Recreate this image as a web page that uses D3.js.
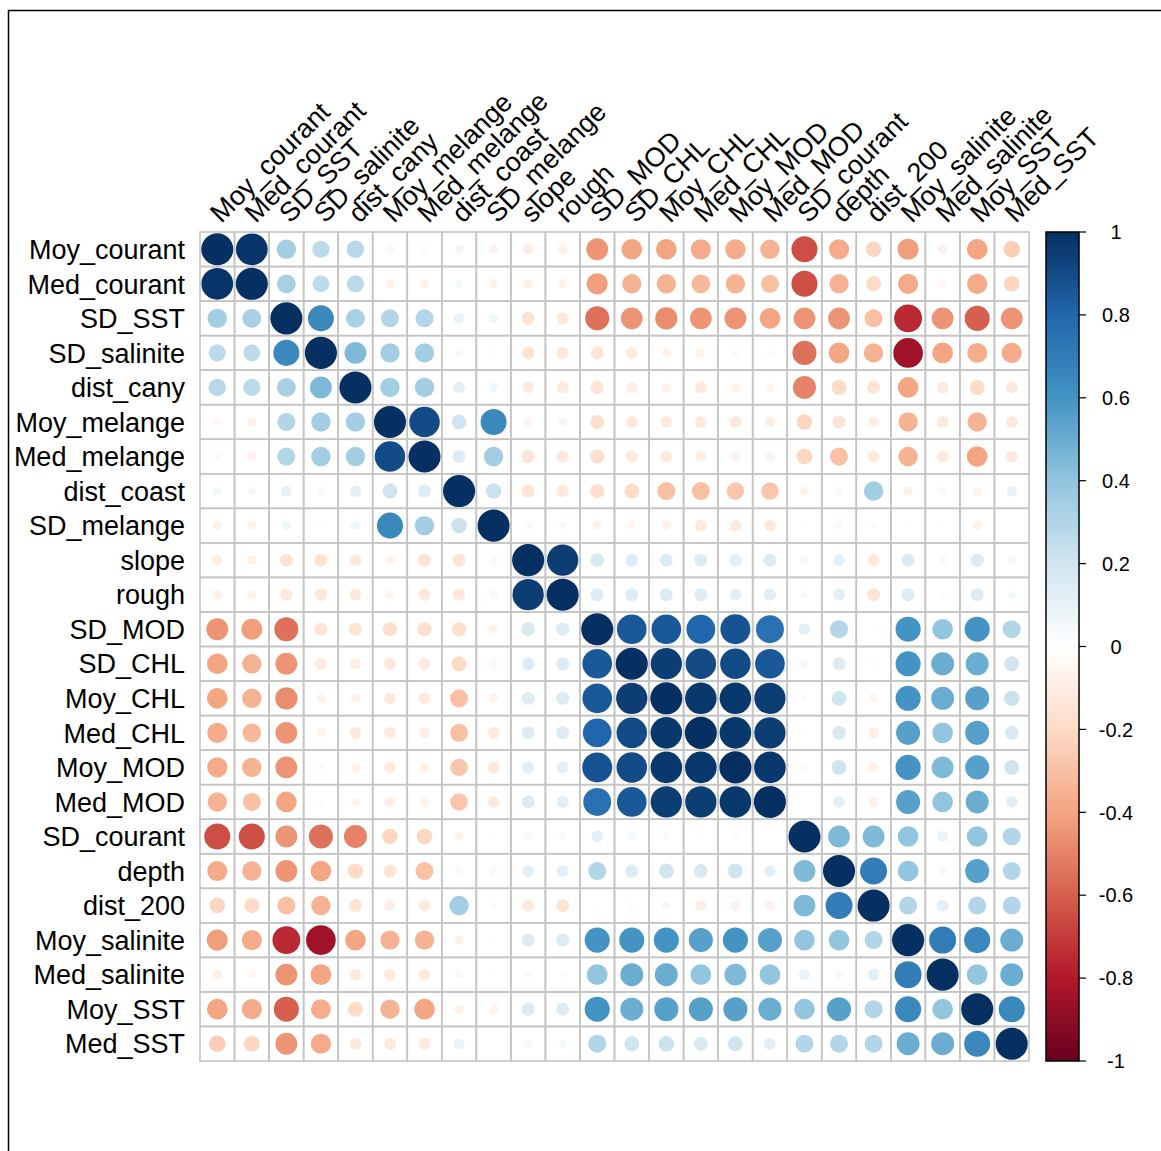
<!DOCTYPE html>
<html>
<head>
<meta charset="utf-8">
<script src="https://cdn.jsdelivr.net/npm/d3@7"></script>
<style>
    body { margin: 0; background: #fff; }
    text { font-family: "Liberation Sans", Arial, sans-serif; }
</style>
</head>
<body>
<div id="chart"></div>
<script>
const width = 1161
const height = 1151

const vars = ["Moy_courant", "Med_courant", "SD_SST", "SD_salinite", "dist_cany", "Moy_melange", "Med_melange",
    "dist_coast", "SD_melange", "slope", "rough", "SD_MOD", "SD_CHL", "Moy_CHL", "Med_CHL", "Moy_MOD", "Med_MOD",
    "SD_courant", "depth", "dist_200", "Moy_salinite", "Med_salinite", "Moy_SST", "Med_SST"]

// one row per variable, same order as vars
const corr = [
    [1, 0.98, 0.35, 0.27, 0.28, -0.05, -0.04, 0.06, -0.07, -0.1, -0.08, -0.45, -0.4, -0.4, -0.38, -0.38, -0.35, -0.65, -0.38, -0.22, -0.42, -0.08, -0.4, -0.25],
    [0.98, 1, 0.33, 0.26, 0.27, -0.07, -0.07, 0.05, -0.07, -0.08, -0.07, -0.42, -0.35, -0.35, -0.33, -0.35, -0.3, -0.65, -0.35, -0.2, -0.38, -0.05, -0.38, -0.22],
    [0.35, 0.33, 1, 0.65, 0.33, 0.3, 0.3, 0.1, 0.07, -0.15, -0.13, -0.55, -0.45, -0.47, -0.45, -0.45, -0.4, -0.45, -0.45, -0.3, -0.75, -0.45, -0.6, -0.45],
    [0.27, 0.26, 0.65, 1, 0.45, 0.35, 0.35, 0.05, 0.02, -0.15, -0.13, -0.15, -0.12, -0.07, -0.07, -0.04, -0.03, -0.55, -0.4, -0.35, -0.85, -0.4, -0.37, -0.38],
    [0.28, 0.27, 0.33, 0.45, 1, 0.35, 0.35, 0.12, 0.07, -0.12, -0.12, -0.15, -0.1, -0.07, -0.12, -0.07, -0.06, -0.5, -0.2, -0.15, -0.4, -0.12, -0.2, -0.12],
    [-0.05, -0.07, 0.3, 0.35, 0.35, 1, 0.9, 0.2, 0.65, -0.07, -0.06, -0.18, -0.13, -0.12, -0.12, -0.12, -0.1, -0.22, -0.15, -0.1, -0.35, -0.12, -0.35, -0.12],
    [-0.04, -0.07, 0.3, 0.35, 0.35, 0.9, 1, 0.15, 0.35, -0.15, -0.13, -0.18, -0.12, -0.12, -0.1, -0.08, -0.07, -0.22, -0.3, -0.12, -0.35, -0.12, -0.4, -0.12],
    [0.06, 0.05, 0.1, 0.05, 0.12, 0.2, 0.15, 1, 0.22, -0.15, -0.13, -0.18, -0.2, -0.3, -0.3, -0.28, -0.28, -0.06, 0.05, 0.35, -0.08, 0.05, -0.07, 0.1],
    [-0.07, -0.07, 0.07, 0.02, 0.07, 0.65, 0.35, 0.22, 1, 0.05, 0.05, -0.07, -0.05, -0.07, -0.12, -0.12, -0.12, -0.02, 0.05, 0.03, -0.02, -0.01, -0.07, 0.01],
    [-0.1, -0.08, -0.15, -0.15, -0.12, -0.07, -0.15, -0.15, 0.05, 1, 0.95, 0.17, 0.15, 0.15, 0.15, 0.13, 0.15, 0.05, 0.12, -0.12, 0.15, 0.05, 0.15, 0.05],
    [-0.08, -0.07, -0.13, -0.13, -0.12, -0.06, -0.13, -0.13, 0.05, 0.95, 1, 0.15, 0.15, 0.15, 0.15, 0.12, 0.13, 0.04, 0.12, -0.15, 0.15, 0.03, 0.15, 0.05],
    [-0.45, -0.42, -0.55, -0.15, -0.15, -0.18, -0.18, -0.18, -0.07, 0.17, 0.15, 1, 0.85, 0.85, 0.8, 0.87, 0.75, 0.12, 0.3, 0.02, 0.6, 0.4, 0.6, 0.3],
    [-0.4, -0.35, -0.45, -0.12, -0.1, -0.13, -0.12, -0.2, -0.05, 0.15, 0.15, 0.85, 1, 0.95, 0.9, 0.9, 0.85, 0.06, 0.15, -0.03, 0.6, 0.5, 0.5, 0.2],
    [-0.4, -0.35, -0.47, -0.07, -0.07, -0.12, -0.12, -0.3, -0.07, 0.15, 0.15, 0.85, 0.95, 1, 0.97, 0.97, 0.95, 0.03, 0.2, -0.06, 0.6, 0.5, 0.55, 0.22],
    [-0.38, -0.33, -0.45, -0.07, -0.12, -0.12, -0.1, -0.3, -0.12, 0.15, 0.15, 0.8, 0.9, 0.97, 1, 0.97, 0.95, 0.02, 0.17, -0.1, 0.55, 0.4, 0.55, 0.17],
    [-0.38, -0.35, -0.45, -0.04, -0.07, -0.12, -0.08, -0.28, -0.12, 0.13, 0.12, 0.87, 0.9, 0.97, 0.97, 1, 0.97, 0.03, 0.2, -0.08, 0.6, 0.45, 0.55, 0.2],
    [-0.35, -0.3, -0.4, -0.03, -0.06, -0.1, -0.07, -0.28, -0.12, 0.15, 0.13, 0.75, 0.85, 0.95, 0.95, 0.97, 1, 0.01, 0.12, -0.08, 0.55, 0.4, 0.5, 0.12],
    [-0.65, -0.65, -0.45, -0.55, -0.5, -0.22, -0.22, -0.06, -0.02, 0.05, 0.04, 0.12, 0.06, 0.03, 0.02, 0.03, 0.01, 1, 0.45, 0.45, 0.4, 0.1, 0.4, 0.3],
    [-0.38, -0.35, -0.45, -0.4, -0.2, -0.15, -0.3, 0.05, 0.05, 0.12, 0.12, 0.3, 0.15, 0.2, 0.17, 0.2, 0.12, 0.45, 1, 0.7, 0.4, 0.05, 0.55, 0.3],
    [-0.22, -0.2, -0.3, -0.35, -0.15, -0.1, -0.12, 0.35, 0.03, -0.12, -0.15, 0.02, -0.03, -0.06, -0.1, -0.08, -0.08, 0.45, 0.7, 1, 0.3, 0.12, 0.3, 0.3],
    [-0.42, -0.38, -0.75, -0.85, -0.4, -0.35, -0.35, -0.08, -0.02, 0.15, 0.15, 0.6, 0.6, 0.6, 0.55, 0.6, 0.55, 0.4, 0.4, 0.3, 1, 0.7, 0.65, 0.5],
    [-0.08, -0.05, -0.45, -0.4, -0.12, -0.12, -0.12, 0.05, -0.01, 0.05, 0.03, 0.4, 0.5, 0.5, 0.4, 0.45, 0.4, 0.1, 0.05, 0.12, 0.7, 1, 0.4, 0.5],
    [-0.4, -0.38, -0.6, -0.37, -0.2, -0.35, -0.4, -0.07, -0.07, 0.15, 0.15, 0.6, 0.5, 0.55, 0.55, 0.55, 0.5, 0.4, 0.55, 0.3, 0.65, 0.4, 1, 0.65],
    [-0.25, -0.22, -0.45, -0.38, -0.12, -0.12, -0.12, 0.1, 0.01, 0.05, 0.05, 0.3, 0.2, 0.22, 0.17, 0.2, 0.12, 0.3, 0.3, 0.3, 0.5, 0.5, 0.65, 1]
]

const legendTicks = [1, 0.8, 0.6, 0.4, 0.2, 0, -0.2, -0.4, -0.6, -0.8, -1]
const palette = ["#67001F", "#B2182B", "#D6604D", "#F4A582", "#FDDBC7", "#FFFFFF", "#D1E5F0", "#92C5DE", "#4393C3", "#2166AC", "#053061"]

const grid = { left: 200, top: 232, size: 829 }

const svg = d3.select("div#chart").append("svg").attr("width", width).attr("height", height)

// frame
svg.append("rect").attr("x", 8.5).attr("y", 10.5).attr("width", width).attr("height", height)
    .attr("fill", "none").attr("stroke", "#000").attr("stroke-width", 1.5)

const x = d3.scaleBand().domain(vars).range([grid.left, grid.left + grid.size])
const y = d3.scaleBand().domain(vars).range([grid.top, grid.top + grid.size])
const color = d3.scaleLinear().domain(d3.range(-1, 1.001, 0.2)).range(palette).interpolate(d3.interpolateRgb)
const cell = x.bandwidth()
const rad = d3.scaleSqrt().domain([0, 1]).range([0, cell * 0.45])

const cells = []
corr.forEach((row, i) => row.forEach((v, j) => cells.push({ r: vars[i], c: vars[j], v: v })))

const cellGroup = svg.append("g").attr("class", "cells")
cellGroup.selectAll("rect").data(cells).enter()
    .append("rect")
    .attr("x", d => x(d.c))
    .attr("y", d => y(d.r))
    .attr("width", cell)
    .attr("height", cell)
    .attr("fill", "none")
    .attr("stroke", "#C4C4C4")
    .attr("stroke-width", 1.6)

cellGroup.selectAll("circle").data(cells).enter()
    .append("circle")
    .attr("cx", d => x(d.c) + cell / 2)
    .attr("cy", d => y(d.r) + cell / 2)
    .attr("r", d => rad(Math.abs(d.v)) + 0.5)
    .attr("fill", d => color(d.v))

// row labels
svg.append("g").selectAll("text").data(vars).enter()
    .append("text")
    .attr("x", grid.left - 15)
    .attr("y", d => y(d) + cell / 2)
    .attr("dy", "0.36em")
    .attr("text-anchor", "end")
    .attr("font-size", 27)
    .text(d => d)

// column labels, rotated
svg.append("g").selectAll("text").data(vars).enter()
    .append("text")
    .attr("transform", d => `translate(${x(d) + cell / 2 + 4}, ${grid.top - 8}) rotate(-45)`)
    .attr("font-size", 27)
    .text(d => d)

// colour legend
const bar = { x: 1046, w: 33, top: grid.top, bottom: grid.top + grid.size }
const ly = d3.scaleLinear().domain([1, -1]).range([bar.top, bar.bottom])

const grad = svg.append("defs").append("linearGradient").attr("id", "legendGrad")
    .attr("x1", 0).attr("y1", 0).attr("x2", 0).attr("y2", 1)
grad.selectAll("stop").data(d3.range(0, 101)).enter()
    .append("stop")
    .attr("offset", d => d + "%")
    .attr("stop-color", d => color(1 - d / 50))

svg.append("rect").attr("x", bar.x).attr("y", bar.top).attr("width", bar.w).attr("height", bar.bottom - bar.top)
    .attr("fill", "url(#legendGrad)").attr("stroke", "#000").attr("stroke-width", 1.5)

const legend = svg.append("g").attr("class", "legend")
legend.selectAll("line").data(legendTicks).enter()
    .append("line")
    .attr("x1", bar.x + bar.w).attr("x2", bar.x + bar.w + 7)
    .attr("y1", d => ly(d)).attr("y2", d => ly(d))
    .attr("stroke", "#000").attr("stroke-width", 1.2)
legend.selectAll("text").data(legendTicks).enter()
    .append("text")
    .attr("x", 1116)
    .attr("y", d => ly(d))
    .attr("dy", "0.36em")
    .attr("text-anchor", "middle")
    .attr("font-size", 20)
    .text(d => d)
</script>
</body>
</html>
